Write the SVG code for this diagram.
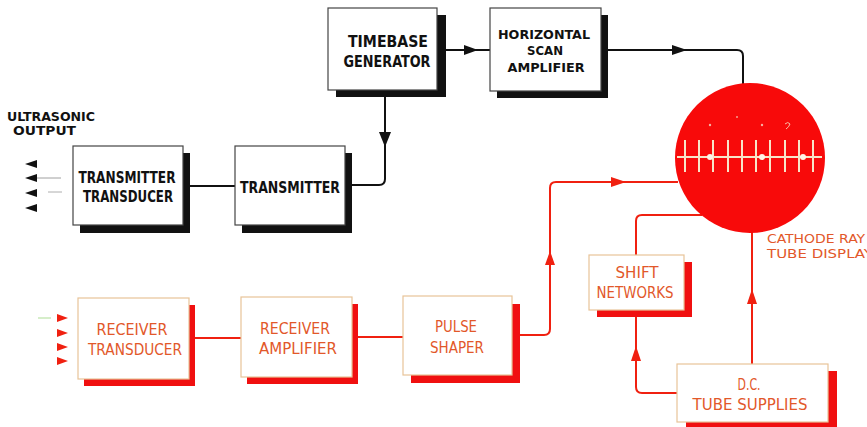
<svg xmlns="http://www.w3.org/2000/svg" width="867" height="427" viewBox="0 0 867 427">
<style>
.bg{fill:#fff}
.box{fill:#fff;stroke:#444;stroke-width:1.2}
.sh{fill:#111}
.rbox{fill:#fff;stroke:#e8c498;stroke-width:1.2}
.rsh{fill:#f01010}
.t{font-family:"DejaVu Sans Condensed","DejaVu Sans",sans-serif;font-size:15px;font-weight:bold;fill:#111;text-anchor:middle}
.rt{font-family:"DejaVu Sans Condensed","DejaVu Sans",sans-serif;font-size:15px;fill:#e2582a;text-anchor:middle}
.tl{text-anchor:start}
.sm{font-size:13px}
.ln{fill:none;stroke:#111;stroke-width:2}
.rln{fill:none;stroke:#f02010;stroke-width:2}
.ah{fill:#111}
.rah{fill:#f02010}
.tr{stroke:#f8e4c8;stroke-width:2;fill:none}
</style>
<rect class="bg" x="0" y="0" width="867" height="427"/>

<g id="connectors">
  <path class="ln" d="M446,50 L490,50"/>
  <polygon class="ah" points="478,50 464,45 464,55"/>
  <path class="ln" d="M608,50 L737,50 Q743,50 743,56 L743,84"/>
  <polygon class="ah" points="687,50 672,45 672,55"/>
  <path class="ln" d="M385,97 L385,179 Q385,185 379,185 L352,185"/>
  <polygon class="ah" points="385,147 379,132 391,132"/>
  <path class="ln" d="M190,186 L235,186"/>
  <path class="rln" d="M195,338 L241,338"/>
  <path class="rln" d="M358,337 L403,337"/>
  <path class="rln" d="M520,335 L544,335 Q550,335 550,329 L550,188 Q550,182 556,182 L678,182"/>
  <polygon class="rah" points="550,251 545,265 555,265"/>
  <polygon class="rah" points="626,182 611,177 611,187"/>
  <path class="rln" d="M702,215 L642,215 Q636,215 636,221 L636,255"/>
  <path class="rln" d="M677,393 L642,393 Q636,393 636,387 L636,317"/>
  <polygon class="rah" points="636,346 631,361 641,361"/>
  <path class="rln" d="M752,364 L752,232"/>
  <polygon class="rah" points="752,289 747,304 757,304"/>
</g>

<g id="ultrasonic-output">
  <text class="t tl sm" x="7" y="121" textLength="88" lengthAdjust="spacingAndGlyphs">ULTRASONIC</text>
  <text class="t tl sm" x="13" y="135" textLength="63" lengthAdjust="spacingAndGlyphs">OUTPUT</text>
  <polygon class="ah" points="25,164 37,160 37,168"/>
  <polygon class="ah" points="25,178 37,174 37,182"/>
  <line x1="37" y1="178" x2="61" y2="178" stroke="#888" stroke-width="0.8"/>
  <polygon class="ah" points="25,193 37,189 37,197"/>
  <line x1="48" y1="192" x2="62" y2="192" stroke="#999" stroke-width="0.8"/>
  <polygon class="ah" points="25,208 37,204 37,212"/>
</g>

<g id="receiver-input">
  <line x1="38" y1="318" x2="51" y2="318" stroke="#c8e8b8" stroke-width="1.5"/>
  <polygon class="rah" points="68,318 57,314 57,322"/>
  <polygon class="rah" points="68,333 57,329 57,337"/>
  <polygon class="rah" points="68,347 57,343 57,351"/>
  <polygon class="rah" points="68,361 57,357 57,365"/>
</g>

<g id="timebase-generator">
  <rect class="sh" x="336" y="15" width="110" height="82"/>
  <rect class="box" x="328" y="8" width="109" height="82"/>
  <text class="t" x="388" y="47" textLength="80" lengthAdjust="spacingAndGlyphs">TIMEBASE</text>
  <text class="t" x="387" y="67" textLength="87" lengthAdjust="spacingAndGlyphs">GENERATOR</text>
</g>

<g id="horizontal-scan-amplifier">
  <rect class="sh" x="497" y="15" width="111" height="83"/>
  <rect class="box" x="490" y="8" width="111" height="83"/>
  <text class="t sm" x="544" y="39" textLength="92" lengthAdjust="spacingAndGlyphs">HORIZONTAL</text>
  <text class="t sm" x="545" y="55" textLength="36" lengthAdjust="spacingAndGlyphs">SCAN</text>
  <text class="t sm" x="546" y="72" textLength="77" lengthAdjust="spacingAndGlyphs">AMPLIFIER</text>
</g>

<g id="transmitter-transducer">
  <rect class="sh" x="80" y="153" width="110" height="80"/>
  <rect class="box" x="73" y="146" width="110" height="79"/>
  <text class="t" x="127" y="183" textLength="97" lengthAdjust="spacingAndGlyphs">TRANSMITTER</text>
  <text class="t" x="128" y="202" textLength="90" lengthAdjust="spacingAndGlyphs">TRANSDUCER</text>
</g>

<g id="transmitter">
  <rect class="sh" x="242" y="153" width="110" height="80"/>
  <rect class="box" x="235" y="146" width="110" height="79"/>
  <text class="t" x="290" y="193" textLength="100" lengthAdjust="spacingAndGlyphs">TRANSMITTER</text>
</g>

<g id="crt-display">
  <circle cx="750" cy="158" r="75" fill="#f80a0a"/>
  <line class="tr" x1="677" y1="157" x2="822" y2="157"/>
  <g class="tr">
    <line x1="685" y1="140" x2="685" y2="172"/>
    <line x1="699" y1="140" x2="699" y2="172"/>
    <line x1="713" y1="140" x2="713" y2="172"/>
    <line x1="728" y1="140" x2="728" y2="172"/>
    <line x1="742" y1="140" x2="742" y2="172"/>
    <line x1="756" y1="140" x2="756" y2="172"/>
    <line x1="770" y1="140" x2="770" y2="172"/>
    <line x1="785" y1="140" x2="785" y2="172"/>
    <line x1="799" y1="140" x2="799" y2="172"/>
    <line x1="813" y1="140" x2="813" y2="172"/>
  </g>
  <circle cx="710" cy="157" r="3" fill="#fff4e8"/>
  <circle cx="762" cy="157" r="3" fill="#fff4e8"/>
  <circle cx="803" cy="157" r="3" fill="#fff4e8"/>
  <circle cx="710" cy="125" r="1.2" fill="#f8b0a0"/>
  <circle cx="737" cy="117" r="1" fill="#f8a090"/>
  <circle cx="762" cy="125" r="1.2" fill="#f8b0a0"/>
  <path d="M785,124 Q788,121 790,124 Q789,127 786,129" fill="none" stroke="#f8c0a8" stroke-width="1"/>
  <text class="rt tl sm" x="767" y="243" textLength="98" lengthAdjust="spacingAndGlyphs">CATHODE RAY</text>
  <text class="rt tl sm" x="767" y="258" textLength="106" lengthAdjust="spacingAndGlyphs">TUBE DISPLAY</text>
</g>

<g id="receiver-transducer">
  <rect class="rsh" x="84" y="305" width="111" height="81"/>
  <rect class="rbox" x="78" y="298" width="111" height="81"/>
  <text class="rt" x="132" y="335" textLength="71" lengthAdjust="spacingAndGlyphs">RECEIVER</text>
  <text class="rt" x="135" y="355" textLength="94" lengthAdjust="spacingAndGlyphs">TRANSDUCER</text>
</g>

<g id="receiver-amplifier">
  <rect class="rsh" x="247" y="304" width="111" height="80"/>
  <rect class="rbox" x="241" y="297" width="111" height="80"/>
  <text class="rt" x="295" y="334" textLength="70" lengthAdjust="spacingAndGlyphs">RECEIVER</text>
  <text class="rt" x="298" y="354" textLength="78" lengthAdjust="spacingAndGlyphs">AMPLIFIER</text>
</g>

<g id="pulse-shaper">
  <rect class="rsh" x="411" y="304" width="109" height="79"/>
  <rect class="rbox" x="403" y="296" width="109" height="79"/>
  <text class="rt" x="456" y="332" textLength="42" lengthAdjust="spacingAndGlyphs">PULSE</text>
  <text class="rt" x="457" y="353" textLength="54" lengthAdjust="spacingAndGlyphs">SHAPER</text>
</g>

<g id="shift-networks">
  <rect class="rsh" x="597" y="262" width="95" height="55"/>
  <rect class="rbox" x="589" y="255" width="95" height="55"/>
  <text class="rt" x="637" y="278" textLength="43" lengthAdjust="spacingAndGlyphs">SHIFT</text>
  <text class="rt" x="635" y="298" textLength="77" lengthAdjust="spacingAndGlyphs">NETWORKS</text>
</g>

<g id="dc-tube-supplies">
  <rect class="rsh" x="686" y="371" width="151" height="58"/>
  <rect class="rbox" x="677" y="364" width="151" height="58"/>
  <text class="rt" x="749" y="390" textLength="23" lengthAdjust="spacingAndGlyphs">D.C.</text>
  <text class="rt" x="750" y="410" textLength="115" lengthAdjust="spacingAndGlyphs">TUBE SUPPLIES</text>
</g>
</svg>
